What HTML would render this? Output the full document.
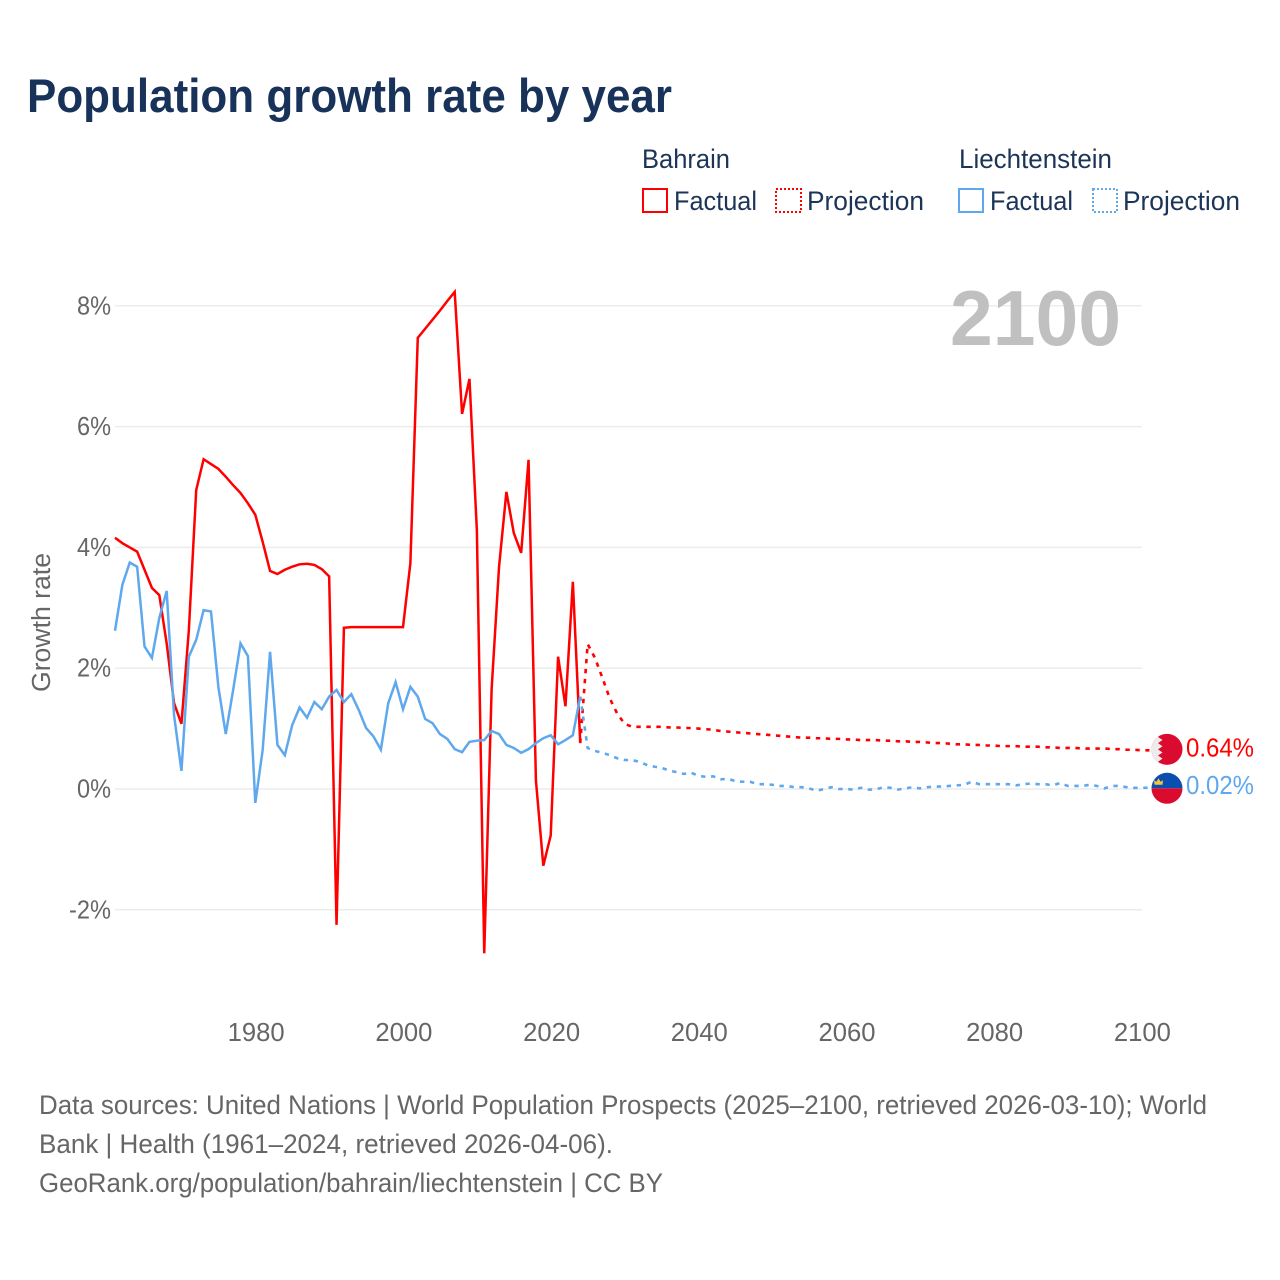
<!DOCTYPE html>
<html lang="en">
<head>
<meta charset="utf-8">
<title>Population growth rate by year</title>
<style>
  html, body { margin: 0; padding: 0; background: #fff; }
  svg { display: block; font-family: "Liberation Sans", sans-serif; }
</style>
</head>
<body>
<svg id="chart" width="1280" height="1280" viewBox="0 0 1280 1280" xmlns="http://www.w3.org/2000/svg">
  <rect width="1280" height="1280" fill="#ffffff"/>
  <text x="27" y="112" font-size="47" font-weight="700" fill="#18325a" textLength="645" lengthAdjust="spacingAndGlyphs">Population growth rate by year</text>

  <g font-size="26.5" fill="#1c3557">
    <text x="642" y="168" textLength="88" lengthAdjust="spacingAndGlyphs">Bahrain</text>
    <text x="959" y="168" textLength="153" lengthAdjust="spacingAndGlyphs">Liechtenstein</text>
    <rect x="643" y="189" width="24" height="23" fill="none" stroke="#ff0000" stroke-width="2"/>
    <text x="674" y="210" textLength="83" lengthAdjust="spacingAndGlyphs">Factual</text>
    <rect x="776" y="189" width="25" height="23" fill="none" stroke="#ff0000" stroke-width="2" stroke-dasharray="2,2"/>
    <text x="807" y="210" textLength="117" lengthAdjust="spacingAndGlyphs">Projection</text>
    <rect x="959" y="189" width="24" height="23" fill="none" stroke="#5fa8ee" stroke-width="2"/>
    <text x="990" y="210" textLength="83" lengthAdjust="spacingAndGlyphs">Factual</text>
    <rect x="1093" y="189" width="24" height="23" fill="none" stroke="#5fa8ee" stroke-width="2" stroke-dasharray="2,2"/>
    <text x="1123" y="210" textLength="117" lengthAdjust="spacingAndGlyphs">Projection</text>
  </g>

  <g id="grid"></g>
  <g id="y-ticks"></g>
  <g id="x-ticks"></g>

  <text x="1121" y="345" text-anchor="end" font-size="78" font-weight="700" fill="#c0c0c0" textLength="171" lengthAdjust="spacingAndGlyphs">2100</text>
  <text transform="translate(50,622.5) rotate(-90)" text-anchor="middle" font-size="25.5" fill="#666666" textLength="139" lengthAdjust="spacingAndGlyphs">Growth rate</text>

  <g id="series"></g>
  <g id="end-markers"></g>

  <g font-size="27" fill="#666666">
    <text x="39" y="1114" textLength="1168" lengthAdjust="spacingAndGlyphs">Data sources: United Nations | World Population Prospects (2025–2100, retrieved 2026-03-10); World</text>
    <text x="39" y="1153" textLength="574" lengthAdjust="spacingAndGlyphs">Bank | Health (1961–2024, retrieved 2026-04-06).</text>
    <text x="39" y="1192" textLength="624" lengthAdjust="spacingAndGlyphs">GeoRank.org/population/bahrain/liechtenstein | CC BY</text>
  </g>
</svg>

<script>
const factualStartYear = 1961;
const projectionStartYear = 2025;
const yTickValues = [8, 6, 4, 2, 0, -2];
const xTickYears = [1980, 2000, 2020, 2040, 2060, 2080, 2100];

const bahrainFactual = [
  4.16, 4.07, 4.00, 3.93, 3.63, 3.33, 3.21, 2.41, 1.42, 1.08,
  2.63, 4.95, 5.46, 5.38, 5.30, 5.17, 5.03, 4.90, 4.73, 4.54,
  4.09, 3.61, 3.56, 3.63, 3.68, 3.72, 3.73, 3.71, 3.64, 3.52,
  -2.25, 2.67, 2.68, 2.68, 2.68, 2.68, 2.68, 2.68, 2.68, 2.68,
  3.74, 7.47, 7.62, 7.77, 7.92, 8.08, 8.23, 6.21, 6.79, 4.29,
  -2.72, 1.65, 3.67, 4.92, 4.24, 3.91, 5.45, 0.14, -1.27, -0.77,
  2.19, 1.37, 3.43, 0.76
];
const bahrainProjection = [
  2.40, 2.17, 1.84, 1.50, 1.25, 1.08, 1.03, 1.03, 1.03, 1.03,
  1.03, 1.02, 1.02, 1.01, 1.01, 1.00, 0.99, 0.98, 0.96, 0.95,
  0.94, 0.93, 0.92, 0.91, 0.90, 0.89, 0.88, 0.87, 0.86, 0.85,
  0.85, 0.84, 0.84, 0.83, 0.83, 0.82, 0.82, 0.81, 0.81, 0.81,
  0.80, 0.80, 0.79, 0.79, 0.78, 0.78, 0.77, 0.76, 0.76, 0.75,
  0.74, 0.74, 0.73, 0.73, 0.72, 0.72, 0.71, 0.71, 0.71, 0.70,
  0.70, 0.70, 0.69, 0.69, 0.68, 0.68, 0.68, 0.67, 0.67, 0.67,
  0.67, 0.66, 0.66, 0.65, 0.65, 0.64
];
const liechtensteinFactual = [
  2.62, 3.38, 3.75, 3.68, 2.36, 2.17, 2.83, 3.28, 1.22, 0.30,
  2.19, 2.47, 2.96, 2.94, 1.69, 0.91, 1.64, 2.41, 2.20, -0.23,
  0.65, 2.27, 0.73, 0.56, 1.06, 1.35, 1.18, 1.44, 1.32, 1.53,
  1.64, 1.44, 1.57, 1.31, 1.01, 0.87, 0.65, 1.42, 1.77, 1.32,
  1.69, 1.53, 1.16, 1.09, 0.91, 0.83, 0.66, 0.61, 0.78, 0.80,
  0.81, 0.96, 0.91, 0.73, 0.68, 0.60, 0.66, 0.76, 0.84, 0.89,
  0.74, 0.81, 0.89, 1.53
];
const liechtensteinProjection = [
  0.68, 0.63, 0.60, 0.56, 0.51, 0.48, 0.48, 0.45, 0.40, 0.37,
  0.35, 0.31, 0.28, 0.25, 0.27, 0.22, 0.20, 0.21, 0.16, 0.17,
  0.13, 0.12, 0.12, 0.08, 0.08, 0.07, 0.05, 0.05, 0.03, 0.03,
  0.01, -0.03, 0.00, 0.03, 0.00, 0.00, -0.01, 0.02, -0.01, -0.01,
  0.03, 0.02, -0.01, 0.01, 0.03, 0.01, 0.03, 0.04, 0.04, 0.05,
  0.06, 0.07, 0.12, 0.08, 0.08, 0.08, 0.08, 0.08, 0.06, 0.08,
  0.09, 0.08, 0.08, 0.06, 0.10, 0.05, 0.05, 0.05, 0.07, 0.05,
  0.01, 0.05, 0.05, 0.03, 0.02, 0.02
];

const SVG_NS = 'http://www.w3.org/2000/svg';
const RED = '#ff0000';
const BLUE = '#5fa8ee';

function xScale(year) { return 255.3 + (year - 1980) * 7.385; }
function yScale(value) { return 789 - value * 60.4; }

function make(tag, attrs, parent) {
  const el = document.createElementNS(SVG_NS, tag);
  for (const key in attrs) el.setAttribute(key, attrs[key]);
  parent.appendChild(el);
  return el;
}

function linePath(startYear, values) {
  return values.map(function (v, i) {
    return (i ? 'L' : 'M') + xScale(startYear + i).toFixed(2) + ' ' + yScale(v).toFixed(2);
  }).join(' ');
}

const gridLayer = document.getElementById('grid');


const yTickLayer = document.getElementById('y-ticks');


yTickValues.forEach(function (v) {
  const grid = make('line', { x1: 115, x2: 1142, y1: yScale(v), y2: yScale(v), stroke: '#ececec', 'stroke-width': 1.5 }, gridLayer);
  
  
  const label = make('text', { x: 111, y: yScale(v) + 8.5, 'text-anchor': 'end', 'font-size': 25.5, fill: '#666666', textLength: v < 0 ? 42 : 34, lengthAdjust: 'spacingAndGlyphs' }, yTickLayer);
  
  
  label.textContent = v + '%';
});

const xTickLayer = document.getElementById('x-ticks');


xTickYears.forEach(function (year) {
  const label = make('text', { x: xScale(year) + 0.9, y: 1041, 'text-anchor': 'middle', 'font-size': 25.5, fill: '#666666', textLength: 57, lengthAdjust: 'spacingAndGlyphs' }, xTickLayer);
  
  
  label.textContent = String(year);
});

const seriesLayer = document.getElementById('series');



function drawProjection(factual, projection, color) {
  const joined = [factual[factual.length - 1]].concat(projection);
  let d = linePath(projectionStartYear - 1, joined);
  const last = projection[projection.length - 1];
  d += ' L' + (xScale(projectionStartYear + projection.length - 1) + 8).toFixed(2) + ' ' + yScale(last).toFixed(2);
  return make('path', { d: d, fill: 'none', stroke: color, 'stroke-width': 2.6, 'stroke-dasharray': '4.4,5.6' }, seriesLayer);
}

const bahrainLine = make('path', { d: linePath(factualStartYear, bahrainFactual), fill: 'none', stroke: RED, 'stroke-width': 2.5 }, seriesLayer);



const bahrainDash = drawProjection(bahrainFactual, bahrainProjection, RED);



const liechtensteinLine = make('path', { d: linePath(factualStartYear, liechtensteinFactual), fill: 'none', stroke: BLUE, 'stroke-width': 2.5 }, seriesLayer);



const liechtensteinDash = drawProjection(liechtensteinFactual, liechtensteinProjection, BLUE);



const markerLayer = document.getElementById('end-markers');



const defs = make('defs', {}, markerLayer);
const clip = make('clipPath', { id: 'flag-clip' }, defs);
make('circle', { cx: 0, cy: 0, r: 15.5 }, clip);

function endValueLabel(value, color) {
  const label = make('text', { x: 1186, y: yScale(value) + 6, 'font-size': 26, fill: color, textLength: 68, lengthAdjust: 'spacingAndGlyphs' }, markerLayer);
  label.textContent = value.toFixed(2) + '%';
  return label;
}

const bahrainEnd = bahrainProjection[bahrainProjection.length - 1];
const bahrainFlag = make('g', { transform: 'translate(1167,' + (yScale(bahrainEnd) - 1) + ')', 'clip-path': 'url(#flag-clip)' }, markerLayer);


make('rect', { x: -16, y: -16, width: 32, height: 32, fill: '#da0b2f' }, bahrainFlag);
make('polygon', { points: '-16,-16 -5,-16 -9,-12.4 -4.5,-9.3 -9,-6.2 -4.5,-3.1 -9,0 -4.5,3.1 -9,6.2 -4.5,9.3 -9,12.4 -5,16 -16,16', fill: '#ececec' }, bahrainFlag);
const bahrainLabel = endValueLabel(bahrainEnd, RED);



const liechtensteinEnd = liechtensteinProjection[liechtensteinProjection.length - 1];
const liechtensteinFlag = make('g', { transform: 'translate(1167,' + (yScale(liechtensteinEnd) + 0.5) + ')', 'clip-path': 'url(#flag-clip)' }, markerLayer);


make('rect', { x: -16, y: -16, width: 32, height: 16, fill: '#0a4fb0' }, liechtensteinFlag);
make('rect', { x: -16, y: 0, width: 32, height: 16, fill: '#da0b2f' }, liechtensteinFlag);
make('path', { d: 'M-12.5 -3.5 L-13 -8 L-10.5 -6.5 L-8.5 -10 L-6.5 -6.5 L-4 -8 L-4.5 -3.5 Z', fill: '#f5c542' }, liechtensteinFlag);
const liechtensteinLabel = endValueLabel(liechtensteinEnd, BLUE);


</script>
</body>
</html>
